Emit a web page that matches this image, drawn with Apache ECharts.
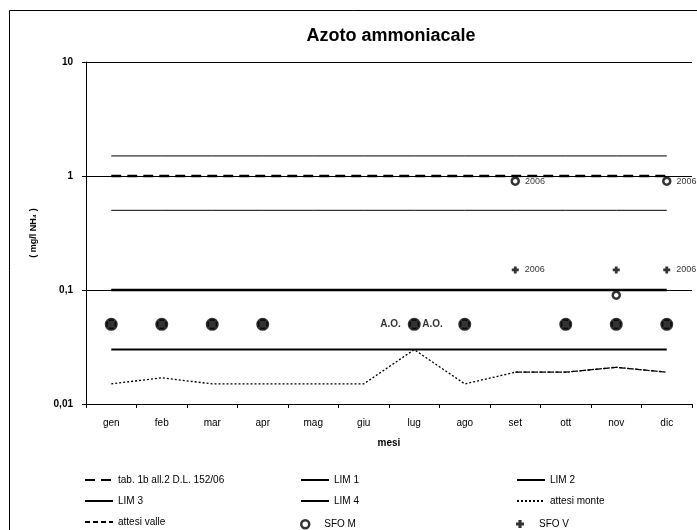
<!DOCTYPE html>
<html>
<head>
<meta charset="utf-8">
<script src="https://cdn.jsdelivr.net/npm/echarts@6/dist/echarts.min.js"></script>
<style>
html,body{margin:0;padding:0;background:#fff;}
#c{width:697px;height:530px;}
</style>
</head>
<body>
<div id="c"></div>
<script>
var months = ['gen','feb','mar','apr','mag','giu','lug','ago','set','ott','nov','dic'];
var yTickLabels = {'0.01':'0,01','0.1':'0,1','1':'1','10':'10'};
var tabLimit = [1,1,1,1,1,1,1,1,1,1,1,1];
var lim1 = [0.1,0.1,0.1,0.1,0.1,0.1,0.1,0.1,0.1,0.1,0.1,0.1];
var lim2 = [1.5,1.5,1.5,1.5,1.5,1.5,1.5,1.5,1.5,1.5,1.5,1.5];
var lim3 = [0.5,0.5,0.5,0.5,0.5,0.5,0.5,0.5,0.5,0.5,0.5,0.5];
var lim4 = [0.03,0.03,0.03,0.03,0.03,0.03,0.03,0.03,0.03,0.03,0.03,0.03];
var attesiMonte = [0.015,0.017,0.015,0.015,0.015,0.015,0.03,0.015,0.019,0.019,0.021,0.019];
var attesiValle = [null,null,null,null,null,null,null,null,0.019,0.019,0.021,0.019];
var sfoM = [0.05,0.05,0.05,0.05,null,null,0.05,0.05,null,0.05,0.05,0.05];
var sfoV = [0.05,0.05,0.05,0.05,null,null,0.05,0.05,null,0.05,0.05,0.05];
var sfoM2006 = [null,null,null,null,null,null,null,null,0.9,null,0.09,0.9];
var sfoV2006 = [null,null,null,null,null,null,null,null,0.15,null,0.15,0.15];
var label2006 = [null,null,null,null,null,null,null,null,'2006',null,null,'2006'];
var labelAO = [null,null,null,null,null,null,'A.O.',null,null,null,null,null];

var FONT = 'Liberation Sans, Arial, sans-serif';
var plusPath = 'path://M2.5,0H7.5V2.5H10V7.5H7.5V10H2.5V7.5H0V2.5H2.5Z';
var plusSmall = 'path://M3,0H7V3H10V7H7V10H3V7H0V3H3Z';
var TRANSPARENT = 'rgba(0,0,0,0)';

function withLabels(values, labels, pos, extra) {
  return values.map(function (v, i) {
    if (labels[i] && v != null) {
      return { value: v, label: Object.assign({ show: true, formatter: labels[i], position: pos, color: '#000', fontFamily: FONT }, extra) };
    }
    return v;
  });
}

function lineSeries(name, data, width, type) {
  return {
    name: name, type: 'line', data: data, symbol: 'none', silent: true,
    lineStyle: { color: '#000', width: width, type: type },
    itemStyle: { color: TRANSPARENT, borderColor: TRANSPARENT, borderWidth: 0 },
    connectNulls: false, animation: false, z: 2
  };
}

var series = [
  lineSeries('LIM 2', lim2, 1, 'solid'),
  lineSeries('tab. 1b all.2 D.L. 152/06', tabLimit, 2.5, [10, 6]),
  lineSeries('LIM 3', lim3, 1, 'solid'),
  lineSeries('LIM 1', lim1, 2.5, 'solid'),
  lineSeries('LIM 4', lim4, 2, 'solid'),
  lineSeries('attesi monte', attesiMonte, 1.3, [2, 2]),
  lineSeries('attesi valle', attesiValle, 1.3, [5, 3]),
  {
    name: 'SFO M', type: 'scatter', symbol: 'circle', symbolSize: 10, animation: false, z: 3,
    itemStyle: { color: '#fff', borderColor: '#000', borderWidth: 3 },
    data: withLabels(sfoM, labelAO, 'left', { fontSize: 10, fontWeight: 'bold', distance: 7 })
  },
  {
    name: 'SFO V', type: 'scatter', symbol: plusPath, symbolSize: 10, animation: false, z: 4,
    itemStyle: { color: '#000' },
    data: withLabels(sfoV, labelAO, 'right', { fontSize: 10, fontWeight: 'bold', distance: 3 })
  },
  {
    name: 'SFO M 2006', type: 'scatter', symbol: 'circle', symbolSize: 7, animation: false, z: 3,
    itemStyle: { color: '#fff', borderColor: '#000', borderWidth: 2.5 },
    data: withLabels(sfoM2006, label2006, 'right', { fontSize: 9, distance: 5 })
  },
  {
    name: 'SFO V 2006', type: 'scatter', symbol: plusSmall, symbolSize: 7, animation: false, z: 4,
    itemStyle: { color: '#000' },
    data: withLabels(sfoV2006, label2006, 'right', { fontSize: 9, distance: 6 })
  }
];

var legendRows = [482, 503, 524];
var legendCols = [84, 300, 516];
var legendOrder = [
  ['tab. 1b all.2 D.L. 152/06', 'LIM 1', 'LIM 2'],
  ['LIM 3', 'LIM 4', 'attesi monte'],
  ['attesi valle', 'SFO M', 'SFO V']
];
var legends = [];
legendOrder.forEach(function (row, r) {
  row.forEach(function (name, c) {
    var isScatter = name === 'SFO M' || name === 'SFO V';
    var lg = {
      data: [name], left: legendCols[c], padding: 0,
      itemWidth: 28, itemHeight: isScatter ? 8 : 12, selectedMode: false,
      top: legendRows[r] - (isScatter ? 5 : 7),
      textStyle: { fontSize: 10, color: '#000', fontFamily: FONT }
    };
    if (!isScatter) {
      lg.itemStyle = { color: TRANSPARENT, borderColor: TRANSPARENT, borderWidth: 0, opacity: 0 };
    } else if (name === 'SFO M') {
      lg.itemStyle = { color: '#fff', borderColor: '#000', borderWidth: 2.5 };
    } else {
      lg.icon = plusSmall;
    }
    legends.push(lg);
  });
});

var chart = echarts.init(document.getElementById('c'), null, { renderer: 'canvas' });
chart.setOption({
  backgroundColor: '#fff',
  animation: false,
  title: {
    text: 'Azoto ammoniacale', left: 386, textAlign: 'center', top: 22,
    textStyle: { fontSize: 18, fontWeight: 'bold', color: '#000', fontFamily: FONT }
  },
  graphic: [{
    type: 'rect', shape: { x: 9.5, y: 10.5, width: 720, height: 560 },
    style: { fill: 'none', stroke: '#000', lineWidth: 1 }, silent: true, z: -1
  }],
  legend: legends,
  grid: { left: 86, right: 5, top: 62, bottom: 126, containLabel: false },
  xAxis: {
    type: 'category', data: months, boundaryGap: true,
    name: 'mesi', nameLocation: 'middle', nameGap: 34,
    nameTextStyle: { fontSize: 10, fontWeight: 'bold', color: '#000', fontFamily: FONT },
    axisLine: { lineStyle: { color: '#000', width: 1 } },
    axisTick: { show: true, length: 4, lineStyle: { color: '#000' } },
    axisLabel: { fontSize: 10, color: '#000', margin: 14, fontFamily: FONT },
    splitLine: { show: false }
  },
  yAxis: {
    type: 'log', logBase: 10, min: 0.01, max: 10,
    name: '( mg/l NH\u2084 )', nameLocation: 'middle', nameGap: 48, nameRotate: 90,
    nameTextStyle: { fontSize: 9, fontWeight: 'bold', color: '#000', fontFamily: FONT },
    axisLine: { show: true, lineStyle: { color: '#000', width: 1 } },
    axisTick: { show: true, length: 4, lineStyle: { color: '#000' } },
    axisLabel: {
      fontSize: 10, fontWeight: 'bold', color: '#000', margin: 13, fontFamily: FONT,
      formatter: function (v) {
        var k = String(+v.toPrecision(6));
        return yTickLabels[k] != null ? yTickLabels[k] : k.replace('.', ',');
      }
    },
    splitLine: { show: true, lineStyle: { color: '#000', width: 1 } },
    minorTick: { show: false }, minorSplitLine: { show: false }
  },
  series: series
});
</script>
</body>
</html>
